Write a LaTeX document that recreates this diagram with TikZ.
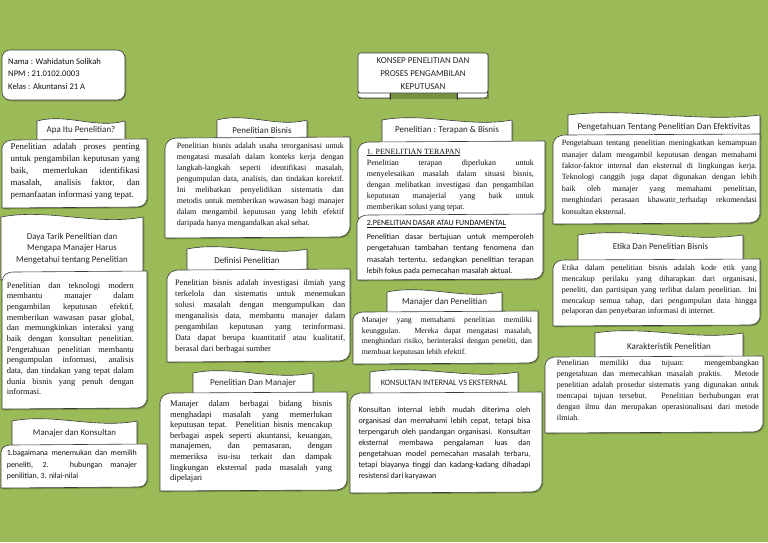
\documentclass[tikz,border=0pt]{standalone}
\usepackage{fontspec}
\setmainfont{Liberation Serif}
\newfontfamily\calib{Carlito}
\definecolor{bg}{HTML}{9BBB59}
\definecolor{edge}{HTML}{3A3A3A}
\definecolor{shd}{HTML}{56702A}
\definecolor{ink}{HTML}{111111}
\definecolor{tabink}{HTML}{262626}
\hyphenpenalty=10000
\exhyphenpenalty=10000
\tolerance=10000
\newcommand{\tpath}[5]{({#1},{#2}) .. controls ({#1+0.333*(#3-#1)},{#2-#5}) and ({#1+0.667*(#3-#1)},{#2+#5}) .. ({#3},{#2}) -- ({#3},{#4}) -- ({#1},{#4}) -- cycle}
\newcommand{\bpath}[6]{({#1},{#2+#6}) .. controls ({#1+0.1*#5},{#2+0.3*#6}) and ({#1+0.4*#5},{#2}) .. ({#1+#5},{#2}) -- ({#3},{#2-1}) -- ({#3},{#4-#6}) .. controls ({#3-0.1*#5},{#4-0.3*#6}) and ({#3-0.4*#5},{#4}) .. ({#3-#5},{#4}) -- ({#1},{#4+1}) -- cycle}
\newcommand{\wshape}[1]{\fill[shad,shift={(1.3,1.3)}] #1;\filldraw[boxs] #1;}
\tikzset{
  boxs/.style={fill=white, draw=edge, line width=0.6pt},
  shad/.style={fill=shd, opacity=0.55},
  sb/.style 2 args={font=\fontsize{#1}{#2}\selectfont, align=justify, inner sep=0pt, anchor=north west, text=ink},
  cb/.style 2 args={font=\calib\fontsize{#1}{#2}\selectfont, align=justify, inner sep=0pt, anchor=north west, text=ink},
  tt/.style={font=\calib\fontsize{9}{11}\selectfont, inner sep=0pt, text=tabink},
}
\begin{document}
\begin{tikzpicture}[x=1pt,y=-1pt]
\useasboundingbox (0,0) rectangle (768,542);
\fill[bg] (0,0) rectangle (768,542);

% info box
\fill[shad, rounded corners=8] (3.3,51.3) rectangle (126.3,101.3);
\filldraw[boxs, rounded corners=8] (2,50) rectangle (125,100);
\node[font=\calib\fontsize{8.6}{12.4}\selectfont, align=left, inner sep=0pt, anchor=north west, text=ink] (info) at (8,58.4)
  {Nama : Wahidatun Solikah\\NPM : 21.0102.0003\\Kelas : Akuntansi 21 A};

% title box
\fill[shad] (359.3,54.3) rectangle (489.3,99.3);
\filldraw[boxs] (362,89) -- (390,89) -- (390,98) -- (362,98) .. controls (357,98) and (357,94) .. (359,92) -- cycle;
\filldraw[boxs] (457,89) -- (485,89) .. controls (489,92) and (489,98) .. (484,98) -- (457,98) -- cycle;
\filldraw[boxs, rounded corners=2.5] (358,53) rectangle (488,93);
\draw[edge, line width=0.6pt] (390,93) -- (390,100);
\draw[edge, line width=0.6pt] (457,93) -- (457,100);
\node[font=\calib\fontsize{9}{12.7}\selectfont, align=center, inner sep=0pt, anchor=north, text=tabink] (title) at (423,57.8)
  {KONSEP PENELITIAN DAN\\PROSES PENGAMBILAN\\KEPUTUSAN};

% ---------- column 1 ----------
\wshape{\tpath{37}{121}{125}{146}{8}}
\node[tt] (t1) at (81,130) {Apa Itu Penelitian?};
\wshape{\bpath{2}{140}{147}{207}{12}{8}}
\node[sb={8.9}{12}, text width=129pt] (b1) at (10.5,143)
  {Penelitian adalah proses penting \linebreak untuk pengambilan keputusan yang \linebreak baik, memerlukan identifikasi \linebreak masalah, analisis faktor, dan \linebreak pemanfaatan informasi yang tepat.};

\wshape{\tpath{1}{217}{143}{280}{9}}
\node[font=\calib\fontsize{8.9}{11.7}\selectfont, align=center, inner sep=0pt, anchor=north, text=tabink] (t2) at (72,232.9)
  {Daya Tarik Penelitian dan\\Mengapa Manajer Harus\\Mengetahui tentang Penelitian};
\wshape{\bpath{2}{272}{147}{408}{12}{9}}
\node[sb={8.4}{10.66}, text width=127pt] (b2) at (6.7,282.2)
  {Penelitian dan teknologi modern \linebreak membantu manajer dalam \linebreak pengambilan keputusan efektif, \linebreak memberikan wawasan pasar global, \linebreak dan memungkinkan interaksi yang \linebreak baik dengan konsultan penelitian. \linebreak Pengetahuan penelitian membantu \linebreak pengumpulan informasi, analisis \linebreak data, dan tindakan yang tepat dalam \linebreak dunia bisnis yang penuh dengan \linebreak informasi.};

\wshape{\tpath{12}{421}{137}{450}{8}}
\node[tt, font=\calib\fontsize{8.8}{11}\selectfont] (t3) at (74.5,433.3) {Manajer dan Konsultan};
\wshape{\bpath{1}{445}{147}{487}{10}{7}}
\node[cb={7.9}{11.4}, text width=130pt] (b3) at (6.7,450)
  {1.bagaimana menemukan dan memilih \linebreak peneliti, 2. hubungan manajer \linebreak penilitian, 3. nilai-nilai};

% ---------- column 2 ----------
\wshape{\tpath{217}{120}{307}{142}{8}}
\node[tt] (t4) at (262,130) {Penelitian Bisnis};
\wshape{\bpath{165}{138}{350}{237}{13}{10}}
\node[sb={8}{11}, text width=167pt] (b4) at (176.7,142.6)
  {Penelitian bisnis adalah usaha terorganisasi untuk \linebreak mengatasi masalah dalam konteks kerja dengan \linebreak langkah-langkah seperti identifikasi masalah, \linebreak pengumpulan data, analisis, dan tindakan korektif. \linebreak Ini melibatkan penyelidikan sistematis dan \linebreak metodis untuk memberikan wawasan bagi manajer \linebreak dalam mengambil keputusan yang lebih efektif \linebreak daripada hanya mengandalkan akal sehat.};

\wshape{\tpath{187}{249}{307}{274}{8}}
\node[tt] (t5) at (247,260) {Definisi Penelitian};
\wshape{\bpath{167}{270}{350}{361}{13}{9}}
\node[sb={8.3}{11}, text width=170pt] (b5) at (175,279.5)
  {Penelitian bisnis adalah investigasi ilmiah yang \linebreak terkelola dan sistematis untuk menemukan \linebreak solusi masalah dengan mengumpulkan dan \linebreak menganalisis data, membantu manajer dalam \linebreak pengambilan keputusan yang terinformasi. \linebreak Data dapat berupa kuantitatif atau kualitatif, \linebreak berasal dari berbagai sumber};

\wshape{\tpath{193}{373}{313}{397}{8}}
\node[tt] (t6) at (253,383.3) {Penelitian Dan Manajer};
\wshape{\bpath{160}{393}{347}{490}{13}{9}}
\node[sb={8.5}{10.6}, text width=162pt] (b6) at (170,400.4)
  {Manajer dalam berbagai bidang bisnis \linebreak menghadapi masalah yang memerlukan \linebreak keputusan tepat. Penelitian bisnis mencakup \linebreak berbagai aspek seperti akuntansi, keuangan, \linebreak manajemen, dan pemasaran, dengan \linebreak memeriksa isu-isu terkait dan dampak \linebreak lingkungan eksternal pada masalah yang \linebreak dipelajari};

% ---------- column 3 ----------
\wshape{\tpath{382}{120}{512}{146}{8}}
\node[tt] (t7) at (447,130) {Penelitian : Terapan \& Bisnis};
\wshape{\bpath{358}{142}{545}{217}{12}{8}}
\node[font=\fontsize{8}{9.2}\selectfont, inner sep=0pt, anchor=west, text=ink] (h7) at (366.7,152.5) {\underline{1. PENELITIAN TERAPAN}};
\node[sb={8}{11}, text width=167pt] (b7) at (366.7,159.6)
  {Penelitian terapan diperlukan untuk \linebreak menyelesaikan masalah dalam situasi bisnis, \linebreak dengan melibatkan investigasi dan pengambilan \linebreak keputusan manajerial yang baik untuk \linebreak memberikan solusi yang tepat.};
\wshape{\bpath{357}{215}{543}{279}{12}{8}}
\node[font=\calib\fontsize{8}{9.6}\selectfont, inner sep=0pt, anchor=west, text=ink] (h8) at (366.7,224) {\underline{2.PENELITIAN DASAR ATAU FUNDAMENTAL}};
\node[cb={8}{11.5}, text width=167pt] (b8) at (366.7,233.3)
  {Penelitian dasar bertujuan untuk memperoleh \linebreak pengetahuan tambahan tentang fenomena dan \linebreak masalah tertentu, sedangkan penelitian terapan \linebreak lebih fokus pada pemecahan masalah aktual.};

\wshape{\tpath{387}{292}{502}{316}{8}}
\node[tt] (t9) at (444.5,301.7) {Manajer dan Penelitian};
\wshape{\bpath{353}{312}{538}{363}{12}{7}}
\node[sb={7.8}{10.7}, text width=170pt] (b9) at (361.7,316.7)
  {Manajer yang memahami penelitian memiliki \linebreak keunggulan. Mereka dapat mengatasi masalah, \linebreak menghindari risiko, berinteraksi dengan peneliti, dan \linebreak membuat keputusan lebih efektif.};

\wshape{\tpath{370}{372}{518}{397}{8}}
\node[tt, font=\calib\fontsize{8.3}{10}\selectfont] (t10) at (444,383.3) {KONSULTAN INTERNAL VS EKSTERNAL};
\wshape{\bpath{350}{393}{542}{492}{13}{9}}
\node[cb={8}{11}, text width=172pt] (b10) at (358.3,406.6)
  {Konsultan internal lebih mudah diterima oleh \linebreak organisasi dan memahami lebih cepat, tetapi bisa \linebreak terpengaruh oleh pandangan organisasi. Konsultan \linebreak eksternal membawa pengalaman luas dan \linebreak pengetahuan model pemecahan masalah terbaru, \linebreak tetapi biayanya tinggi dan kadang-kadang dihadapi \linebreak resistensi dari karyawan};

% ---------- column 4 ----------
\wshape{\tpath{568}{115}{760}{138}{8}}
\node[tt] (t11) at (664,126.7) {Pengetahuan Tentang Penelitian Dan Efektivitas};
\wshape{\bpath{553}{135}{760}{223}{13}{9}}
\node[sb={8}{11.4}, text width=195pt] (b11) at (561.7,139.9)
  {Pengetahuan tentang penelitian meningkatkan kemampuan \linebreak manajer dalam mengambil keputusan dengan memahami \linebreak faktor-faktor internal dan eksternal di lingkungan kerja. \linebreak Teknologi canggih juga dapat digunakan dengan lebih \linebreak baik oleh manajer yang memahami penelitian, \linebreak menghindari perasaan khawatir\_terhadap rekomendasi \linebreak konsultan eksternal.};

\wshape{\tpath{578}{235}{743}{264}{8}}
\node[tt] (t12) at (660.5,246.7) {Etika Dan Penelitian Bisnis};
\wshape{\bpath{553}{260}{760}{325}{12}{8}}
\node[sb={8}{10.8}, text width=195pt] (b12) at (561.7,264.9)
  {Etika dalam penelitian bisnis adalah kode etik yang \linebreak mencakup perilaku yang diharapkan dari organisasi, \linebreak peneliti, dan partisipan yang terlibat dalam penelitian. Ini \linebreak mencakup semua tahap, dari pengumpulan data hingga \linebreak pelaporan dan penyebaran informasi di internet.};

\wshape{\tpath{595}{333}{743}{360}{8}}
\node[tt] (t13) at (669,346.7) {Karakteristik Penelitian};
\wshape{\bpath{545}{357}{763}{432}{12}{8}}
\node[sb={8}{11}, text width=202pt] (b13) at (556.7,359.9)
  {Penelitian memiliki dua tujuan: mengembangkan \linebreak pengetahuan dan memecahkan masalah praktis. Metode \linebreak penelitian adalah prosedur sistematis yang digunakan untuk \linebreak mencapai tujuan tersebut. Penelitian berhubungan erat \linebreak dengan ilmu dan merupakan operasionalisasi dari metode \linebreak ilmiah.};
\end{tikzpicture}
\end{document}
